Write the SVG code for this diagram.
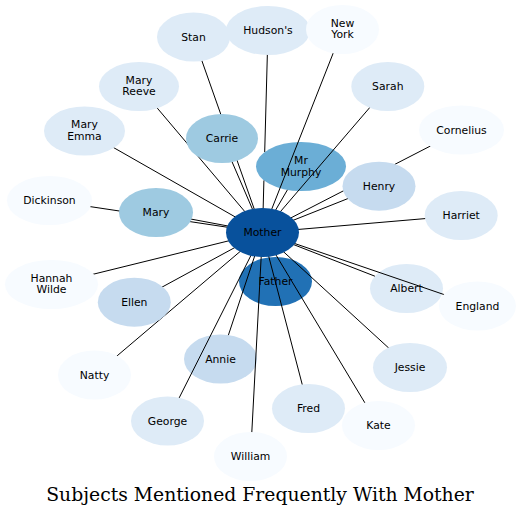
<svg xmlns="http://www.w3.org/2000/svg" width="521" height="517" viewBox="0 0 521 517">
<style>
text{font-family:"DejaVu Sans","Liberation Sans",sans-serif;font-size:10.8px;text-anchor:middle;fill:#000}
.t{font-family:"DejaVu Serif","Liberation Serif",serif;font-size:18.8px}
#connectors line{stroke:#000;stroke-width:1}
.c0{fill:#f7fbff}.c1{fill:#deebf7}.c2{fill:#c6dbef}.c3{fill:#9ecae1}.c4{fill:#6baed6}.c5{fill:#2171b5}.c6{fill:#08519c}
</style>
<rect width="521" height="517" fill="#fff"/>
<g id="node-father"><ellipse class="c5" cx="275.5" cy="281.5" rx="36.5" ry="24.5"/><text x="275.5" y="285">Father</text></g>
<g id="node-annie"><ellipse class="c2" cx="220.5" cy="359" rx="36.5" ry="24.5"/><text x="220.5" y="362.5">Annie</text></g>
<g id="node-albert"><ellipse class="c1" cx="406.5" cy="288.5" rx="36.5" ry="24.5"/><text x="406.5" y="292">Albert</text></g>
<g id="node-mr-murphy"><ellipse class="c4" cx="301" cy="166.5" rx="45" ry="24.5"/><text x="301" y="164">Mr</text><text x="301" y="175.5">Murphy</text></g>
<g id="connectors">
<line x1="193.5" y1="37" x2="262.5" y2="232.5"/>
<line x1="268" y1="30.5" x2="264.7" y2="152"/>
<line x1="263.9" y1="180.5" x2="262.5" y2="232.5"/>
<line x1="342.5" y1="29.5" x2="262.5" y2="232.5"/>
<line x1="139" y1="86.5" x2="262.5" y2="232.5"/>
<line x1="84.5" y1="131" x2="262.5" y2="232.5"/>
<line x1="222" y1="138.5" x2="262.5" y2="232.5"/>
<line x1="287.4" y1="189.9" x2="262.5" y2="232.5"/>
<line x1="387.8" y1="86.5" x2="262.5" y2="232.5"/>
<line x1="461.5" y1="130" x2="262.5" y2="232.5"/>
<line x1="379" y1="186.2" x2="262.5" y2="232.5"/>
<line x1="49.5" y1="200.5" x2="262.5" y2="232.5"/>
<line x1="156" y1="212.5" x2="262.5" y2="232.5"/>
<line x1="461.2" y1="215.5" x2="262.5" y2="232.5"/>
<line x1="51.5" y1="284.5" x2="262.5" y2="232.5"/>
<line x1="134.3" y1="302.2" x2="262.5" y2="232.5"/>
<line x1="374.9" y1="276.2" x2="262.5" y2="232.5"/>
<line x1="477.5" y1="306" x2="262.5" y2="232.5"/>
<line x1="94.5" y1="375" x2="262.5" y2="232.5"/>
<line x1="228.4" y1="335.1" x2="262.5" y2="232.5"/>
<line x1="167.5" y1="421" x2="262.5" y2="232.5"/>
<line x1="250.5" y1="456.5" x2="262.5" y2="232.5"/>
<line x1="308.5" y1="408.5" x2="262.5" y2="232.5"/>
<line x1="378.5" y1="425.5" x2="262.5" y2="232.5"/>
<line x1="410" y1="367.5" x2="262.5" y2="232.5"/>
</g>
<g id="node-stan"><ellipse class="c1" cx="193.5" cy="37" rx="36.5" ry="24.5"/><text x="193.5" y="40.5">Stan</text></g>
<g id="node-hudsons"><ellipse class="c1" cx="268" cy="30.5" rx="42" ry="24.5"/><text x="268" y="34">Hudson's</text></g>
<g id="node-new-york"><ellipse class="c0" cx="342.5" cy="29.5" rx="36.5" ry="24.5"/><text x="342.5" y="26.8">New</text><text x="342.5" y="38.3">York</text></g>
<g id="node-mary-reeve"><ellipse class="c1" cx="139" cy="86.5" rx="40" ry="24.5"/><text x="139" y="83.5">Mary</text><text x="139" y="95.2">Reeve</text></g>
<g id="node-mary-emma"><ellipse class="c1" cx="84.5" cy="131" rx="40.5" ry="24.5"/><text x="84.5" y="128">Mary</text><text x="84.5" y="139.7">Emma</text></g>
<g id="node-carrie"><ellipse class="c3" cx="222" cy="138.5" rx="36" ry="24.5"/><text x="222" y="142">Carrie</text></g>
<g id="node-sarah"><ellipse class="c1" cx="387.8" cy="86.5" rx="36.5" ry="24.5"/><text x="387.8" y="90">Sarah</text></g>
<g id="node-cornelius"><ellipse class="c0" cx="461.5" cy="130" rx="42.5" ry="24.5"/><text x="461.5" y="133.5">Cornelius</text></g>
<g id="node-henry"><ellipse class="c2" cx="379" cy="186.2" rx="36.5" ry="24.5"/><text x="379" y="189.7">Henry</text></g>
<g id="node-dickinson"><ellipse class="c0" cx="49.5" cy="200.5" rx="42.5" ry="24.5"/><text x="49.5" y="204">Dickinson</text></g>
<g id="node-mary"><ellipse class="c3" cx="156" cy="212.5" rx="37" ry="24.5"/><text x="156" y="216">Mary</text></g>
<g id="node-harriet"><ellipse class="c1" cx="461.2" cy="215.5" rx="36.5" ry="24.5"/><text x="461.2" y="219">Harriet</text></g>
<g id="node-hannah-wilde"><ellipse class="c0" cx="51.5" cy="284.5" rx="46.5" ry="24.5"/><text x="51.5" y="281.5">Hannah</text><text x="51.5" y="293.2">Wilde</text></g>
<g id="node-ellen"><ellipse class="c2" cx="134.3" cy="302.2" rx="36.5" ry="24.5"/><text x="134.3" y="305.7">Ellen</text></g>
<g id="node-england"><ellipse class="c0" cx="477.5" cy="306" rx="38.5" ry="24.5"/><text x="477.5" y="309.5">England</text></g>
<g id="node-natty"><ellipse class="c0" cx="94.5" cy="375" rx="36.5" ry="24.5"/><text x="94.5" y="378.5">Natty</text></g>
<g id="node-jessie"><ellipse class="c1" cx="410" cy="367.5" rx="37" ry="24.5"/><text x="410" y="371">Jessie</text></g>
<g id="node-george"><ellipse class="c1" cx="167.5" cy="421" rx="36.5" ry="24.5"/><text x="167.5" y="424.5">George</text></g>
<g id="node-fred"><ellipse class="c1" cx="308.5" cy="408.5" rx="36.5" ry="24.5"/><text x="308.5" y="412">Fred</text></g>
<g id="node-kate"><ellipse class="c0" cx="378.5" cy="425.5" rx="36.5" ry="24.5"/><text x="378.5" y="429">Kate</text></g>
<g id="node-william"><ellipse class="c0" cx="250.5" cy="456.5" rx="36.5" ry="24.5"/><text x="250.5" y="460">William</text></g>
<g id="node-mother"><ellipse class="c6" cx="262.5" cy="232.5" rx="36.5" ry="24.5"/><text x="262.5" y="236">Mother</text></g>
<text class="t" x="260" y="501">Subjects Mentioned Frequently With Mother</text>
</svg>
